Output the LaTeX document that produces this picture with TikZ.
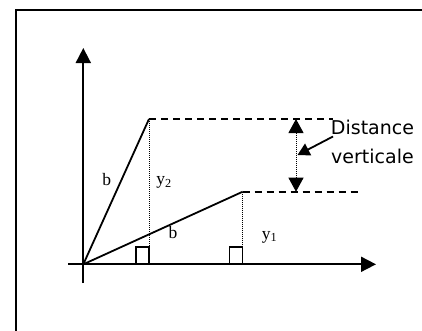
\documentclass[tikz,border=0pt]{standalone}
\usepackage{fontspec}
\setmainfont{Liberation Serif}
\newfontfamily\labfont{DejaVu Sans}
\usetikzlibrary{arrows.meta}
\begin{document}
\begin{tikzpicture}[x=1pt,y=-1pt,
  solidln/.style={line width=1.8pt},
  dashln/.style={line width=1.8pt, dash pattern=on 7pt off 5pt},
  dotln/.style={line width=1pt, dash pattern=on 1pt off 1pt},
  bigtip/.style={-{Triangle[length=15pt,width=15pt]}},
  lab/.style={inner sep=0pt, font=\fontsize{17.5}{17.5}\selectfont},
  txt/.style={inner sep=0pt, font=\labfont\fontsize{19}{29}\selectfont, align=center}]
\useasboundingbox (0,0) rectangle (422,330);
\draw[line width=1.8pt] (15.7,340) -- (15.7,10) -- (430,10);
\coordinate (O) at (83.3,264.3);
\coordinate (xl) at (68.3,264.3);
\coordinate (xr) at (376,264.3);
\coordinate (yb) at (83.3,283);
\coordinate (yt) at (83.3,48);
\coordinate (P2) at (149,119);
\coordinate (P1) at (242.7,191.7);
\coordinate (F2) at (149,264.3);
\coordinate (F1) at (242.7,264.3);
\coordinate (D2) at (333,119);
\coordinate (D1) at (362,191.7);
\coordinate (A2) at (296,119);
\coordinate (A1) at (296,191.7);
\coordinate (Am) at (297.5,155);
% axes
\draw[solidln,bigtip] (xl) -- (xr);
\draw[solidln,bigtip] (yb) -- (yt);
% lines
\draw[solidln] (O) -- (P2);
\draw[solidln] (O) -- (P1);
\draw[dashln] (P2) -- (D2);
\draw[dashln] (P1) -- (D1);
\draw[dotln] (P2) -- (F2);
\draw[dotln] (P1) -- (F1);
% right angle squares
\draw[line width=1.4pt] (136,264.3) rectangle (149,247);
\draw[line width=1.4pt] (229.5,264.3) rectangle (242.7,247);
% double arrow
\draw[dotln,{Triangle[length=14pt,width=15pt]}-{Triangle[length=14pt,width=15pt]}] (A2) -- (A1);
% labels
\node[lab] (b1) at (106.7,180) {b};
\node[lab] (y2) at (164,182.5) {y\textsubscript{2}};
\node[lab] (b2) at (173,233) {b};
\node[lab] (y1) at (269.5,237) {y\textsubscript{1}};
\node[txt,anchor=base] (dist) at (372.5,163) {Distance\\verticale};
\draw[line width=1.8pt,-{Triangle[length=12pt,width=13pt]}] (333,136.5) -- (Am);
\end{tikzpicture}
\end{document}
